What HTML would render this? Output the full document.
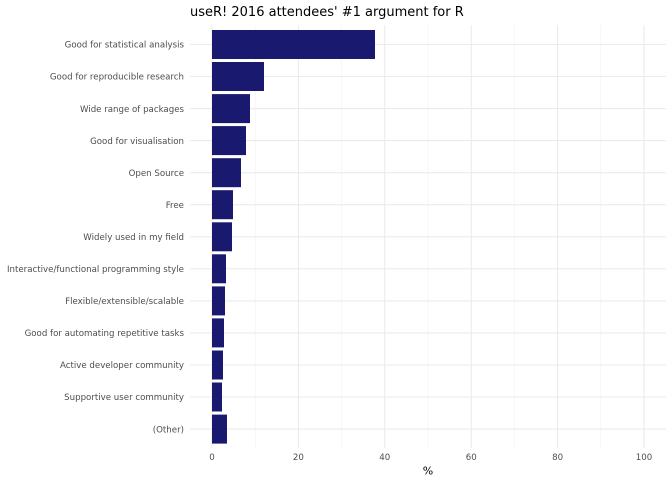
<!DOCTYPE html><html><head><style>body{margin:0;background:#fff}</style></head><body>
<svg width="672" height="480" xmlns="http://www.w3.org/2000/svg" font-family="DejaVu Sans, sans-serif">
<rect width="672" height="480" fill="#fff"/>
<g stroke="#f2f2f2" stroke-width="0.6">
<line x1="255.2" y1="25" x2="255.2" y2="448"/><line x1="341.6" y1="25" x2="341.6" y2="448"/><line x1="428" y1="25" x2="428" y2="448"/><line x1="514.4" y1="25" x2="514.4" y2="448"/><line x1="600.8" y1="25" x2="600.8" y2="448"/>
</g>
<g stroke="#ebebeb" stroke-width="1.1">
<line x1="212" y1="25" x2="212" y2="448"/><line x1="298.4" y1="25" x2="298.4" y2="448"/><line x1="384.8" y1="25" x2="384.8" y2="448"/><line x1="471.2" y1="25" x2="471.2" y2="448"/><line x1="557.6" y1="25" x2="557.6" y2="448"/><line x1="644" y1="25" x2="644" y2="448"/>
<line x1="190" y1="44.5" x2="666" y2="44.5"/><line x1="190" y1="76.5" x2="666" y2="76.5"/><line x1="190" y1="108.6" x2="666" y2="108.6"/><line x1="190" y1="140.6" x2="666" y2="140.6"/><line x1="190" y1="172.7" x2="666" y2="172.7"/><line x1="190" y1="204.7" x2="666" y2="204.7"/><line x1="190" y1="236.8" x2="666" y2="236.8"/><line x1="190" y1="268.8" x2="666" y2="268.8"/><line x1="190" y1="300.9" x2="666" y2="300.9"/><line x1="190" y1="332.9" x2="666" y2="332.9"/><line x1="190" y1="365" x2="666" y2="365"/><line x1="190" y1="397" x2="666" y2="397"/><line x1="190" y1="429.1" x2="666" y2="429.1"/>
</g>
<g fill="#191970">
<rect x="212" y="30" width="163" height="29"/>
<rect x="212" y="62" width="52" height="29"/>
<rect x="212" y="94.1" width="38" height="29"/>
<rect x="212" y="126.1" width="34" height="29"/>
<rect x="212" y="158.2" width="29" height="29"/>
<rect x="212" y="190.2" width="21" height="29"/>
<rect x="212" y="222.3" width="20" height="29"/>
<rect x="212" y="254.3" width="14" height="29"/>
<rect x="212" y="286.4" width="13" height="29"/>
<rect x="212" y="318.4" width="12" height="29"/>
<rect x="212" y="350.5" width="11" height="29"/>
<rect x="212" y="382.5" width="10" height="29"/>
<rect x="212" y="414.6" width="15" height="29"/>
</g>
<g font-size="8.65" fill="#4d4d4d" text-anchor="end">
<text x="184" y="47.7">Good for statistical analysis</text>
<text x="184" y="79.7">Good for reproducible research</text>
<text x="184" y="111.8">Wide range of packages</text>
<text x="184" y="143.8">Good for visualisation</text>
<text x="184" y="175.9">Open Source</text>
<text x="184" y="207.9">Free</text>
<text x="184" y="240">Widely used in my field</text>
<text x="184" y="272">Interactive/functional programming style</text>
<text x="184" y="304.1">Flexible/extensible/scalable</text>
<text x="184" y="336.1">Good for automating repetitive tasks</text>
<text x="184" y="368.2">Active developer community</text>
<text x="184" y="400.2">Supportive user community</text>
<text x="184" y="432.3">(Other)</text>
</g>
<g font-size="8.65" fill="#4d4d4d" text-anchor="middle">
<text x="212" y="460">0</text><text x="298.4" y="460">20</text><text x="384.8" y="460">40</text><text x="471.2" y="460">60</text><text x="557.6" y="460">80</text><text x="644" y="460">100</text>
</g>
<text x="428" y="474.5" font-size="11" text-anchor="middle" fill="#000">%</text>
<text x="190" y="16" font-size="13" fill="#000">useR! 2016 attendees' #1 argument for R</text>
</svg>
</body></html>
